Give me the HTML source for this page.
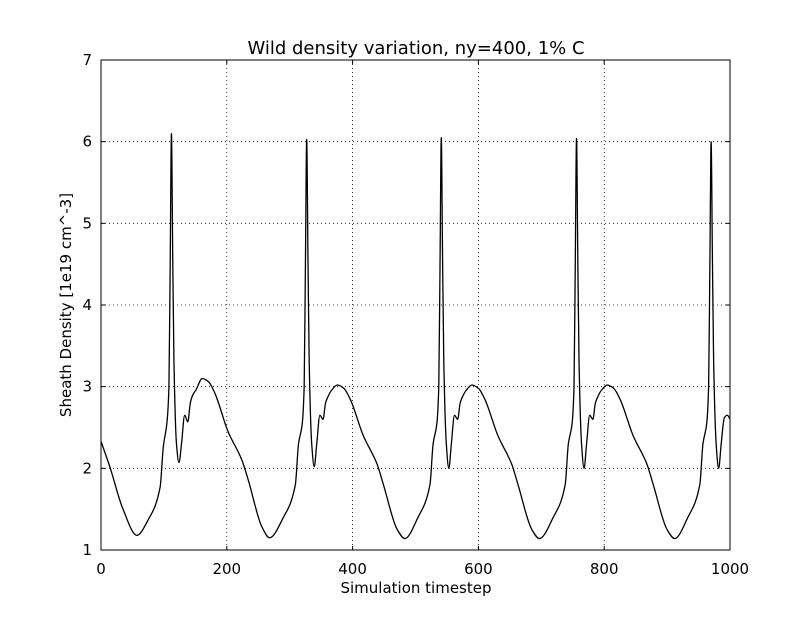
<!DOCTYPE html>
<html><head><meta charset="utf-8"><style>
body{margin:0;background:#fff}
svg text{font-family:"DejaVu Sans","Liberation Sans",sans-serif;fill:#000}
</style></head><body>
<svg id="chart" width="812" height="612" viewBox="0 0 812 612">
<rect width="812" height="612" fill="#fff"/>
<text x="416" y="54" font-size="18" text-anchor="middle">Wild density variation, ny=400, 1% C</text>
<g id="grid"></g>
<g id="ticks"></g>
<path id="line" fill="none" stroke="#000" stroke-width="1.3"/>
<rect x="101" y="60" width="629" height="490" fill="none" stroke="#000" stroke-width="1"/>
<text x="416" y="593" font-size="15" text-anchor="middle">Simulation timestep</text>
<text transform="translate(71,305) rotate(-90)" font-size="15" text-anchor="middle">Sheath Density [1e19 cm^-3]</text>
</svg>
<script>
const xTicks=[0,200,400,600,800,1000];
const yTicks=[1,2,3,4,5,6,7];
const steps=[0,14,35,57,75,94,99,105,108,110,112,114,116,120,124,128,133,138,142,146,151,161,171,181,202,224,234,256,268,
290,309,314,320,323,325,327,329,331,335,339,343,348,353,357,361,366,376,386,396,417,439,449,471,483,
504,523,528,534,537,539,541,543,545,549,553,557,562,567,571,575,580,590,600,610,631,653,663,685,697,
719,738,743,749,752,754,756,758,760,764,768,772,777,782,786,790,795,805,815,825,846,868,878,900,912,
933,952,957,963,966,968,970,972,974,978,982,986,991,996,1000];
const density=[2.33,2.02,1.5,1.18,1.37,1.77,2.26,2.57,3.0,4.5,6.1,4.6,3.3,2.3,2.07,2.3,2.65,2.57,2.8,2.9,2.96,3.1,3.06,2.92,2.45,2.1,1.86,1.28,1.15,
1.4,1.8,2.3,2.55,3.0,4.5,6.03,4.6,3.3,2.3,2.02,2.3,2.65,2.6,2.8,2.88,2.95,3.02,2.98,2.85,2.4,2.05,1.8,1.25,1.14,
1.4,1.8,2.3,2.55,3.0,4.5,6.05,4.6,3.3,2.3,2.0,2.3,2.65,2.6,2.8,2.88,2.95,3.02,2.98,2.85,2.4,2.05,1.8,1.25,1.14,
1.4,1.8,2.3,2.55,3.0,4.5,6.04,4.6,3.3,2.3,2.0,2.3,2.65,2.6,2.8,2.88,2.95,3.02,2.98,2.85,2.4,2.05,1.8,1.25,1.14,
1.4,1.8,2.3,2.55,3.0,4.5,6.0,4.6,3.3,2.3,2.0,2.3,2.62,2.65,2.6];
const X0=101,X1=730,Y0=550,Y1=60;
const sx=v=>X0+(v-0)/(1000-0)*(X1-X0);
const sy=v=>Y0-(v-1)/(7-1)*(Y0-Y1);
const NS='http://www.w3.org/2000/svg';
const grid=document.getElementById('grid'),ticks=document.getElementById('ticks');
function ln(p,x1,y1,x2,y2,dash){const l=document.createElementNS(NS,'line');
l.setAttribute('x1',x1);l.setAttribute('y1',y1);l.setAttribute('x2',x2);l.setAttribute('y2',y2);
l.setAttribute('stroke','#000');l.setAttribute('stroke-width',dash?0.8:1);if(dash)l.setAttribute('stroke-dasharray','1,3');
p.appendChild(l);return l;}
function tx(x,y,s,anchor){const t=document.createElementNS(NS,'text');t.setAttribute('x',x);t.setAttribute('y',y);
t.setAttribute('font-size','15');t.setAttribute('text-anchor',anchor);t.textContent=s;document.getElementById('chart').appendChild(t);return t;}
xTicks.forEach(v=>{const x=sx(v);
const g=ln(grid,x,Y1,x,Y0,true);


ln(ticks,x,Y0,x,Y0-4);ln(ticks,x,Y1,x,Y1+4);
const t=tx(x,574,String(v),'middle');

});
yTicks.forEach(v=>{const y=sy(v);
const g=ln(grid,X0,y,X1,y,true);


ln(ticks,X0,y,X0+4,y);ln(ticks,X1,y,X1-4,y);
const t=tx(92,y+5,String(v),'end');

});
// monotone cubic interpolation
const n=steps.length,px=steps.map(sx),py=density.map(sy);
const d=[],m=[];
for(let i=0;i<n-1;i++)d.push((py[i+1]-py[i])/(px[i+1]-px[i]));
m[0]=d[0];m[n-1]=d[n-2];
for(let i=1;i<n-1;i++){if(d[i-1]*d[i]<=0)m[i]=0;else{const w1=2*(px[i+1]-px[i])+(px[i]-px[i-1]),w2=(px[i+1]-px[i])+2*(px[i]-px[i-1]);m[i]=(w1+w2)/(w1/d[i-1]+w2/d[i]);}}
let p='M'+px[0]+','+py[0];
for(let i=0;i<n-1;i++){const h=px[i+1]-px[i];
p+=' C'+(px[i]+h/3)+','+(py[i]+m[i]*h/3)+' '+(px[i+1]-h/3)+','+(py[i+1]-m[i+1]*h/3)+' '+px[i+1]+','+py[i+1];}
document.getElementById('line').setAttribute('d',p);
</script>
</body></html>
